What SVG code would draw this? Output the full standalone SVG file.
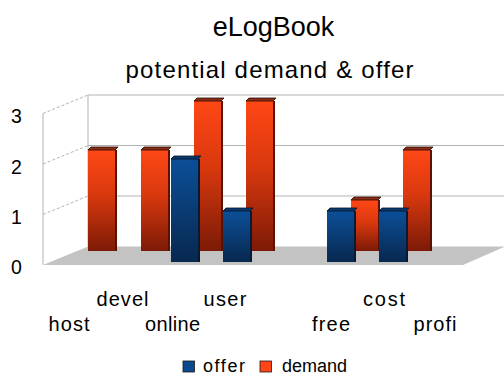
<svg xmlns="http://www.w3.org/2000/svg" width="504" height="378" viewBox="0 0 504 378">
<defs>
<linearGradient id="redG" x1="0" y1="0" x2="0" y2="1">
<stop offset="0" stop-color="#ff4716"/>
<stop offset="0.45" stop-color="#d8380e"/>
<stop offset="1" stop-color="#7c1a06"/>
</linearGradient>
<linearGradient id="blueG" x1="0" y1="0" x2="0" y2="1">
<stop offset="0" stop-color="#0b4f98"/>
<stop offset="1" stop-color="#08284f"/>
</linearGradient>
<style>
text{font-family:"Liberation Sans",Arial,sans-serif;fill:#000}
.grid{stroke:#b3b3b3;stroke-width:1;fill:none}
.dash{stroke:#b3b3b3;stroke-width:1;stroke-dasharray:3 2;fill:none}
.red{fill:url(#redG)}
.blue{fill:url(#blueG)}
.rcap{fill:#8a2e18;stroke:#2a0800;stroke-width:0.8}
.bcap{fill:#0a3a70;stroke:#021022;stroke-width:0.8}
.rside{fill:#5a1204}
.bside{fill:#061a36}
.lab{font-size:20px;text-anchor:middle}
.ax{font-size:19.5px}
</style>
</defs>
<rect width="504" height="378" fill="#ffffff"/>
<text x="273.5" y="35.5" font-size="27" text-anchor="middle">eLogBook</text>
<text x="269.5" y="78" font-size="24" text-anchor="middle" textLength="288" lengthAdjust="spacing">potential demand &amp; offer</text>
<g id="walls">
<polygon points="43,265 88,246.5 505,246.5 463,265" fill="#c3c3c3"/>
<line class="grid" x1="88" y1="95" x2="504" y2="95"/>
<line class="grid" x1="88" y1="145.5" x2="504" y2="145.5"/>
<line class="grid" x1="88" y1="196" x2="504" y2="196"/>
<line class="grid" x1="88" y1="95" x2="88" y2="246.5"/>
<line class="grid" x1="43" y1="113.5" x2="43" y2="265"/>
<line class="dash" x1="43" y1="113.5" x2="88" y2="95"/>
<line class="dash" x1="43" y1="164" x2="88" y2="145.5"/>
<line class="dash" x1="43" y1="214.5" x2="88" y2="196"/>
</g>
<g id="yaxis" class="ax">
<text x="11" y="122.5">3</text>
<text x="11" y="173.5">2</text>
<text x="11" y="223.5">1</text>
<text x="11" y="274">0</text>
</g>
<g id="demand">
<g id="host-demand"><rect class="rside" x="115" y="150" width="2" height="101"/><rect class="red" x="88" y="150" width="27" height="101"/><polygon class="rcap" points="88,150 115,150 118,147 91,147"/></g>
<g id="devel-demand"><rect class="rside" x="168" y="150" width="2" height="101"/><rect class="red" x="141" y="150" width="27" height="101"/><polygon class="rcap" points="141,150 168,150 171,147 144,147"/></g>
<g id="online-demand"><rect class="rside" x="221" y="101" width="2" height="150"/><rect class="red" x="194" y="101" width="27" height="150"/><polygon class="rcap" points="194,101 221,101 224,98 197,98"/></g>
<g id="user-demand"><rect class="rside" x="273" y="101" width="2" height="150"/><rect class="red" x="246" y="101" width="27" height="150"/><polygon class="rcap" points="246,101 273,101 276,98 249,98"/></g>
<g id="free-demand"><rect class="rside" x="378" y="200" width="2" height="51"/><rect class="red" x="351" y="200" width="27" height="51"/><polygon class="rcap" points="351,200 378,200 381,197 354,197"/></g>
<g id="cost-demand"><rect class="rside" x="430" y="150" width="2" height="101"/><rect class="red" x="403" y="150" width="27" height="101"/><polygon class="rcap" points="403,150 430,150 433,147 406,147"/></g>
</g>
<g id="offer">
<g id="online-offer"><rect class="bside" x="198" y="159" width="2" height="103"/><rect class="blue" x="171" y="159" width="27" height="103"/><polygon class="bcap" points="171,159 198,159 201,156 174,156"/></g>
<g id="user-offer"><rect class="bside" x="250" y="211" width="2" height="51"/><rect class="blue" x="223" y="211" width="27" height="51"/><polygon class="bcap" points="223,211 250,211 253,208 226,208"/></g>
<g id="free-offer"><rect class="bside" x="354" y="211" width="2" height="51"/><rect class="blue" x="327" y="211" width="27" height="51"/><polygon class="bcap" points="327,211 354,211 357,208 330,208"/></g>
<g id="cost-offer"><rect class="bside" x="406" y="211" width="2" height="51"/><rect class="blue" x="379" y="211" width="27" height="51"/><polygon class="bcap" points="379,211 406,211 409,208 382,208"/></g>
</g>
<g id="xaxis" class="lab">
<text x="122.5" y="306" textLength="52">devel</text>
<text x="225" y="306" textLength="43">user</text>
<text x="384" y="306" textLength="42">cost</text>
<text x="69" y="331" textLength="41">host</text>
<text x="172.5" y="331" textLength="55">online</text>
<text x="331" y="331" textLength="38">free</text>
<text x="435" y="331" textLength="43">profi</text>
</g>
<g id="legend">
<rect x="183" y="361" width="11.5" height="11" fill="#0b4a8f" stroke="#1a1a1a" stroke-width="0.8"/>
<text x="203" y="371.5" font-size="18" textLength="42">offer</text>
<rect x="260" y="361" width="11.5" height="11" fill="#ff4516" stroke="#1a1a1a" stroke-width="0.8"/>
<text x="282" y="371.5" font-size="18" textLength="65">demand</text>
</g>
</svg>
